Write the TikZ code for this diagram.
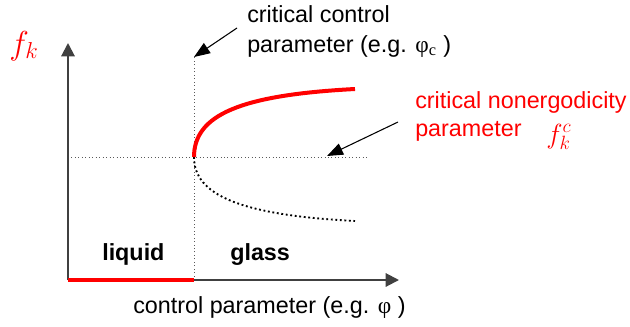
\documentclass[tikz,border=0pt]{standalone}
\usepackage{fontspec}
\setmainfont{Liberation Sans}
\newfontfamily\greekfont{Liberation Serif}
\usetikzlibrary{arrows.meta}
\definecolor{axiscol}{RGB}{64,64,64}
\definecolor{critred}{RGB}{255,0,0}
\definecolor{guidecol}{RGB}{90,90,90}

\begin{document}
\begin{tikzpicture}[
  x=0.75pt, y=-0.75pt,
  axis/.style={draw=axiscol, line width=1.5pt, -{Triangle[length=10pt,width=10pt]}},
  guide/.style={draw=guidecol, line width=0.6pt, dotted},
  branch/.style={draw=black, line width=1.4pt, dotted},
  pointer/.style={draw=black, line width=0.8pt, -{Triangle[length=12pt,width=9pt]}},
  lbl/.style={font=\fontsize{17.5}{21}\selectfont, inner sep=0pt, anchor=base west},
  phase/.style={lbl, font=\fontsize{17.5}{21}\selectfont\bfseries},
]
\useasboundingbox (0,0) rectangle (630,326);
% ===== Points =====
\coordinate (origin) at (68,280);
\coordinate (ytip)   at (68,43);
\coordinate (xtip)   at (399,280);
\coordinate (crit)   at (194,157);
\coordinate (critx)  at (194,280);
\coordinate (crittop) at (194,57);
\coordinate (hend)   at (368,157);
\coordinate (upend)  at (355,89);
\coordinate (lowend) at (355,221);

% ===== Axes and guides =====
\draw[guide] (critx) -- (crittop);
\draw[guide] (origin |- crit) -- (hend);
\draw[axis] (origin) -- (ytip);
\draw[axis] (origin) -- (xtip);
\draw[critred, line width=2.6pt] (origin) -- (critx);

% ===== Branches =====
\draw[branch] (crit) .. controls (194,195) and (240,215) .. (lowend);
\draw[critred, line width=3pt] (crit) .. controls (194,115) and (240,95) .. (upend);

% ===== Labels =====
\node[lbl] (ctl1) at (247,22) {critical control};
\node[lbl] (ctl2) at (247,52) {parameter (e.g. {\greekfont φ}\textsubscript{\greekfont c} )};
\node[lbl, text=critred] (ne1) at (415,108) {critical nonergodicity};
\node[lbl, text=critred] (ne2) at (415,136) {parameter};
\node[inner sep=0pt, anchor=base west, text=critred, font=\fontsize{20}{24}\selectfont] (fkc) at (546,143) {$f_k^c$};
\node[inner sep=0pt, anchor=base west, text=critred, font=\fontsize{24}{28}\selectfont] (fk) at (9,54) {$f_k$};
\node[phase] (liq) at (102,260) {liquid};
\node[phase] (gls) at (230,260) {glass};
\node[lbl] (xlab) at (133,313) {control parameter (e.g. {\greekfont φ} )};

% ===== Pointers =====
\coordinate (p1) at (237,28);
\coordinate (p2) at (398,122);
\draw[pointer] (p1) -- (crittop);
\draw[pointer] (p2) -- (327,156);
\end{tikzpicture}
\end{document}
